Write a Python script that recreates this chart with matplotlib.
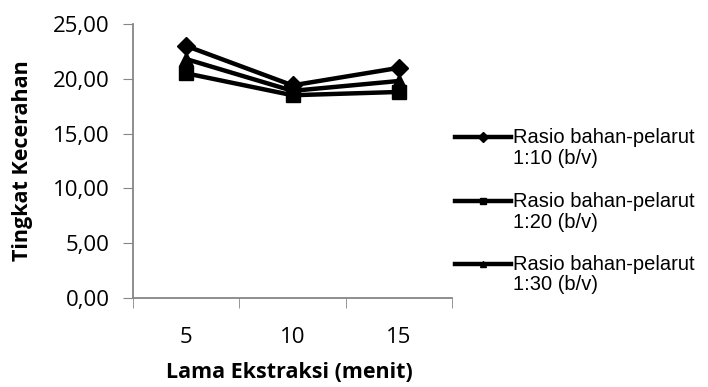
import matplotlib
matplotlib.use("Agg")
import matplotlib.pyplot as plt
from matplotlib.lines import Line2D

categories = ["5", "10", "15"]
series_labels = ["Rasio bahan-pelarut\n1:10 (b/v)",
                 "Rasio bahan-pelarut\n1:20 (b/v)",
                 "Rasio bahan-pelarut\n1:30 (b/v)"]
s_110 = [23.0, 19.4, 21.0]
s_120 = [20.5, 18.5, 18.8]
s_130 = [21.8, 18.9, 19.8]
y_ticks = [0, 5, 10, 15, 20, 25]
y_tick_labels = ["0,00", "5,00", "10,00", "15,00", "20,00", "25,00"]

markers = ["D", "s", "^"]
msizes = [9, 10, 10]

fig = plt.figure(figsize=(7.08, 3.87), dpi=100)
ax = fig.add_axes([133/708, 1-298/387, (452-133)/708, (298-24)/387])

xs = list(range(len(categories)))
for vals, m, ms in zip([s_110, s_120, s_130], markers, msizes):
    ax.plot(xs, vals, color="black", lw=3.2, marker=m, ms=ms, clip_on=False)

ax.set_xlim(-0.5, len(categories) - 0.5)
ax.set_ylim(0, 25)
ax.set_yticks(y_ticks)
ax.set_yticklabels(y_tick_labels, fontfamily="Open Sans", fontsize=16)
ax.set_xticks(xs)
ax.set_xticklabels(categories, fontfamily="Open Sans", fontsize=16)
ax.set_xticks([-0.5, 0.5, 1.5, 2.5], minor=True)
ax.tick_params(axis="x", which="major", length=0, pad=21)
ax.tick_params(axis="x", which="minor", length=7, color="#868686", direction="out")
ax.tick_params(axis="y", length=7, color="#868686", pad=10)
for s in ["top", "right"]:
    ax.spines[s].set_visible(False)
for s in ["left", "bottom"]:
    ax.spines[s].set_color("#868686")
    ax.spines[s].set_linewidth(1.3)

ax.set_ylabel("Tingkat Kecerahan", fontfamily="Open Sans", fontweight="bold",
              fontsize=15.5)
ax.yaxis.set_label_coords(-0.313, 0.5)
ax.set_xlabel("Lama Ekstraksi (menit)", fontfamily="Open Sans", fontweight="bold",
              fontsize=15.5)
ax.xaxis.set_label_coords(0.49, -0.232)

# legend (manual layout: marker key aligned with first text line)
leg_y = [137, 201, 264]
for lab, m, yy in zip(series_labels, markers, leg_y):
    fy = 1 - yy/387
    fig.add_artist(Line2D([455/708, 511/708], [fy, fy], color="black", lw=3.2,
                          transform=fig.transFigure))
    fig.add_artist(Line2D([483/708], [fy], color="black", marker=m, ms=5,
                          transform=fig.transFigure))
    fig.text(513/708, fy + 9/387, lab, fontfamily="Liberation Sans", fontsize=14.5,
             va="top", ha="left", linespacing=1.1)

fig.savefig("out.png", dpi=100)
